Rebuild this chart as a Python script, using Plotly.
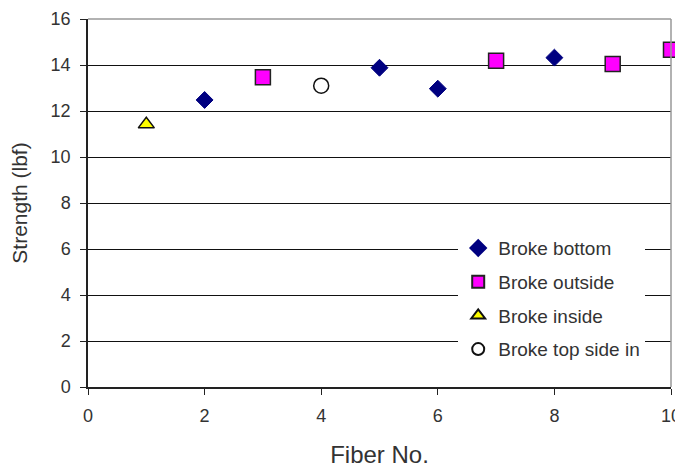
import plotly.graph_objects as go

bottom_x = [2, 5, 6, 8]
bottom_y = [12.48, 13.88, 12.97, 14.32]
outside_x = [3, 7, 9, 10]
outside_y = [13.47, 14.18, 14.04, 14.66]
inside_x = [1]
inside_y = [11.42]
top_x = [4]
top_y = [13.1]
x_ticks = [0, 2, 4, 6, 8, 10]
y_ticks = [0, 2, 4, 6, 8, 10, 12, 14, 16]

fig = go.Figure()
fig.add_trace(go.Scatter(x=bottom_x, y=bottom_y, mode="markers", name="Broke bottom",
                         legendgroup="a",
                         marker=dict(symbol="diamond", size=13, color="#000080",
                                     line=dict(color="#000080", width=1))))
fig.add_trace(go.Scatter(x=outside_x, y=outside_y, mode="markers", name="Broke outside",
                         legendgroup="b",
                         marker=dict(symbol="square", size=15, color="#ff00ff",
                                     line=dict(color="#222222", width=1.5))))
fig.add_trace(go.Scatter(x=inside_x, y=inside_y, mode="markers", name="Broke inside",
                         legendgroup="c",
                         marker=dict(symbol="triangle-up", size=14, color="#ffff00",
                                     line=dict(color="#111111", width=1.5))))
fig.add_trace(go.Scatter(x=top_x, y=top_y, mode="markers", name="Broke top side in",
                         legendgroup="d",
                         marker=dict(symbol="circle", size=15, color="#ffffff",
                                     line=dict(color="#111111", width=1.5))))
fig.update_traces(cliponaxis=False)

fig.update_layout(
    width=675, height=464,
    margin=dict(l=80, r=12, t=11, b=85),
    paper_bgcolor="white", plot_bgcolor="white",
    font=dict(family="Liberation Sans, Arial, sans-serif", color="#333333"),
    showlegend=True,
    legend=dict(x=0.635, y=0.429, xanchor="left", yanchor="top",
                bgcolor="white", borderwidth=0, tracegroupgap=6,
                font=dict(size=19, color="#333333"), itemsizing="constant"),
    xaxis=dict(range=[0, 10], tickvals=x_ticks, showgrid=False, automargin=False,
               showline=True, linecolor="#222222", linewidth=1.5,
               ticks="outside", ticklen=6, tickcolor="#222222",
               ticklabelstandoff=6,
               tickfont=dict(size=18, color="#333333"),
               title=dict(text="Fiber No.", font=dict(size=24, color="#333333"), standoff=21),
               zeroline=False),
    yaxis=dict(range=[0, 16], tickvals=y_ticks, showgrid=True, gridcolor="#111111",
               gridwidth=1.3, automargin=False,
               showline=True, linecolor="#222222", linewidth=1.5,
               ticks="outside", ticklen=6, tickcolor="#222222",
               ticklabelstandoff=6,
               tickfont=dict(size=18, color="#333333"),
               title=dict(text="Strength (lbf)", font=dict(size=21, color="#333333"), standoff=18),
               zeroline=False),
    shapes=[
        dict(type="line", xref="paper", yref="paper", x0=0, x1=1, y0=1, y1=1,
             line=dict(color="#999999", width=1.5), layer="above"),
        dict(type="line", xref="paper", yref="paper", x0=1, x1=1, y0=0, y1=1,
             line=dict(color="#999999", width=1.5), layer="above"),
    ],
)

fig.write_html("out.html")
